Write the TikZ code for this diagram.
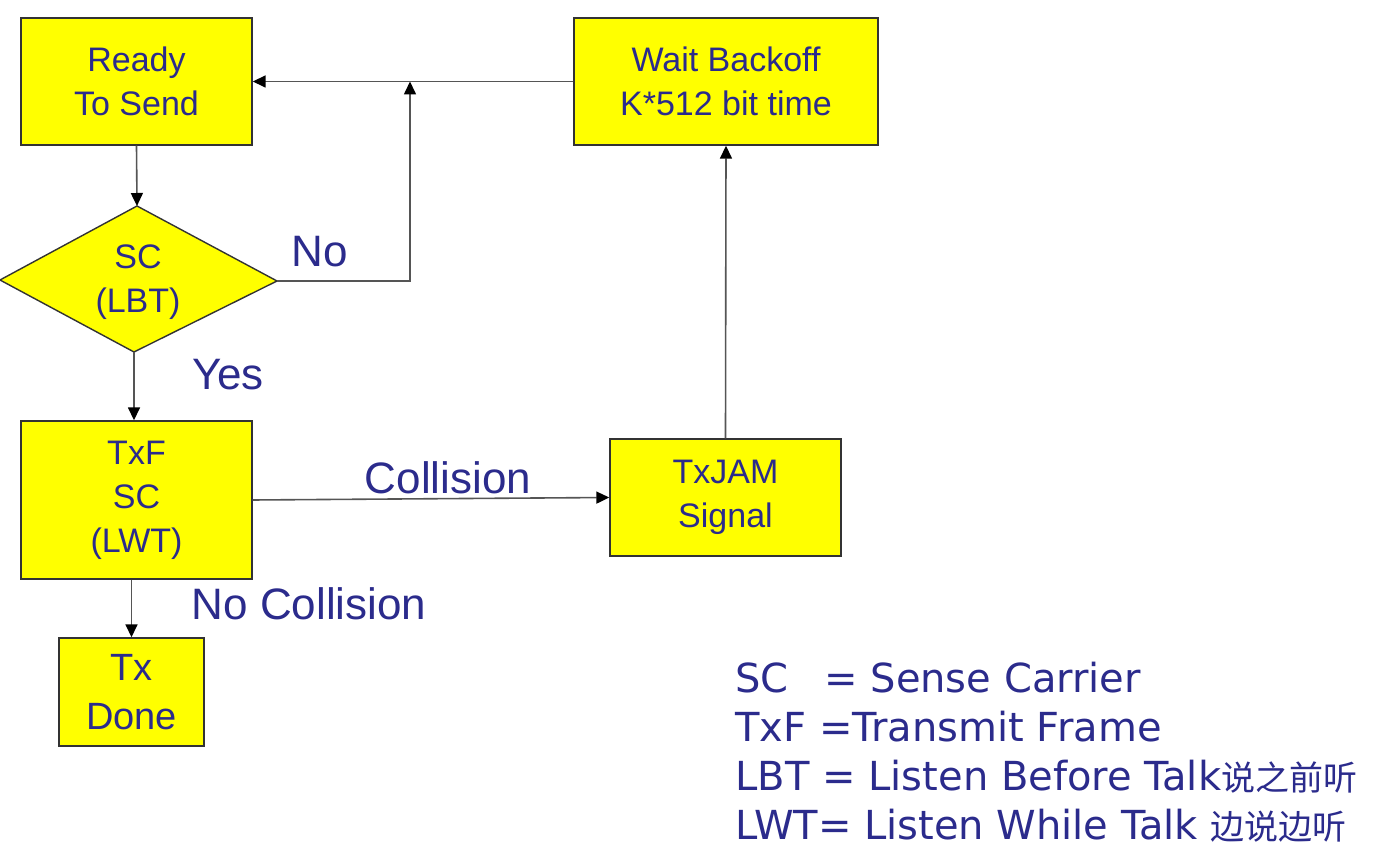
\documentclass[tikz,border=0pt]{standalone}
\usepackage{fontspec}
\setmainfont{Liberation Sans}
\newfontfamily\legfont{DejaVu Sans}
\newfontfamily\cjk{Noto Sans CJK SC}
\usetikzlibrary{arrows.meta}
\definecolor{txtblue}{RGB}{43,43,140}
\definecolor{boxyellow}{RGB}{255,255,0}
\definecolor{linegray}{RGB}{85,85,85}
\begin{document}
\begin{tikzpicture}[x=0.5pt,y=-0.5pt,
  box/.style={draw=black!80,line width=0.7pt,fill=boxyellow,text=txtblue,align=center,inner sep=0pt,font=\fontsize{17}{22}\selectfont},
  conn/.style={draw=linegray,line width=0.8pt,-{Triangle[length=6.5pt,width=6pt,color=black]}},
  plain/.style={draw=linegray,line width=0.8pt},
  lbl/.style={text=txtblue,font=\fontsize{22}{26}\selectfont,inner sep=0pt},
  leg/.style={text=txtblue,font=\legfont\fontsize{20}{24}\selectfont,anchor=base west,inner sep=0pt}]
\useasboundingbox (0,0) rectangle (1388,860);
\fill[white] (0,0) rectangle (1388,860);

% boxes
\node[box,minimum width=115.5pt,minimum height=63.5pt] (ready) at (136.5,81.5) {Ready\\To Send};
\node[box,minimum width=152pt,minimum height=63.5pt] (wait) at (726,81.5) {Wait Backoff\\K*512 bit time};
\node[box,minimum width=115.5pt,minimum height=79pt] (txf) at (136.5,500) {TxF\\SC\\(LWT)};
\node[box,minimum width=115.5pt,minimum height=58.5pt] (jam) at (725.5,497.5) {TxJAM\\Signal};
\node[box,minimum width=72.5pt,minimum height=54pt,font=\fontsize{19}{24.5}\selectfont] (done) at (131.5,692) {Tx\\Done};

% diamond
\coordinate (dT) at (137,206);
\coordinate (dR) at (277,281);
\coordinate (dB) at (134,352);
\coordinate (dL) at (0,280);
\filldraw[fill=boxyellow,draw=black!80,line width=0.7pt] (dT) -- (dR) -- (dB) -- (dL) -- cycle;
\node[text=txtblue,align=center,inner sep=0pt,font=\fontsize{17}{22}\selectfont] (sc) at (138,282) {SC\\(LBT)};

% connectors
\coordinate (j) at (410,81.5);
\draw[conn] (ready.south) -- (dT);
\draw[conn] (dR) -| (j);
\draw[conn] (wait.west) -- (ready.east);
\draw[conn] (dB) -- (dB |- txf.north);
\draw[conn] (txf.east) -- (jam.west);
\draw[conn] (done.north |- txf.south) -- (done.north);
\draw[conn] (jam.north) -- (wait.south);

% labels
\node[lbl] (lno) at (320,252) {No};
\node[lbl] (lyes) at (228,375) {Yes};
\node[lbl] (lcol) at (448,478) {Collision};
\node[lbl] (lnocol) at (309,604) {No Collision};

% legend
\node[leg] (g1) at (735,693) {SC};
\node[leg] (g1b) at (824,693) {= Sense Carrier};
\node[leg] (g2) at (735,742) {TxF =Transmit Frame};
\node[leg] (g3) at (735,791) {LBT = Listen Before Talk{\cjk\fontsize{17}{20}\selectfont 说之前听}};
\node[leg] (g4) at (735,840) {LWT= Listen While Talk {\cjk\fontsize{17}{20}\selectfont 边说边听}};
\end{tikzpicture}
\end{document}
